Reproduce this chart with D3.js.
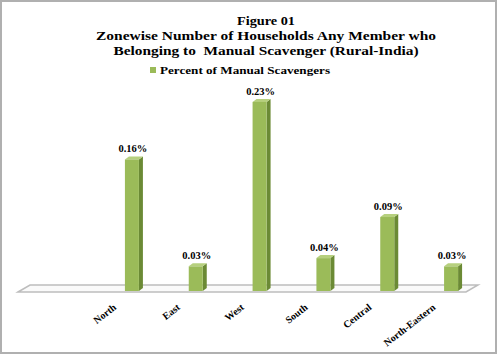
<!DOCTYPE html>
<html><head><meta charset="utf-8">
<script src="https://cdn.jsdelivr.net/npm/d3@7"></script>
<style>html,body{margin:0;padding:0;background:#fff;}svg{display:block;}</style>
</head><body>
<svg id="chart" width="498" height="356"></svg>
<script>
const categories = ["North", "East", "West", "South", "Central", "North-Eastern"];
const values = [0.16, 0.03, 0.23, 0.04, 0.09, 0.03];
const valueLabels = ["0.16%", "0.03%", "0.23%", "0.04%", "0.09%", "0.03%"];
const titleLines = ["Figure 01", "Zonewise Number of Households Any Member who", "Belonging to  Manual Scavenger (Rural-India)"];
const seriesName = "Percent of Manual Scavengers";

const svg = d3.select("#chart");
const serif = "'Liberation Serif','Times New Roman',serif";
const cFront = "#9bbb59", cSide = "#6b8a35", cTop = "#b6d07e";

// outer frame
svg.append("rect").attr("x", 1).attr("y", 1).attr("width", 495).attr("height", 352)
  .attr("fill", "#fff").attr("stroke", "#b0b0b0").attr("stroke-width", 2);

// title (reference is horizontally stretched; fit line widths)
const titleWidths = [58, 340, 305];
titleLines.forEach((t, i) => {
  svg.append("text").attr("x", 266).attr("y", 25 + i * 15).attr("text-anchor", "middle")
    .attr("font-family", serif).attr("font-weight", "bold").attr("font-size", 13.5).attr("fill", "#000")
    .attr("xml:space", "preserve")
    .attr("textLength", titleWidths[i]).attr("lengthAdjust", "spacingAndGlyphs")
    .text(t);
});

// legend
svg.append("rect").attr("x", 150).attr("y", 67).attr("width", 6).attr("height", 6).attr("fill", cFront);
svg.append("text").attr("x", 160).attr("y", 74).attr("font-family", serif).attr("font-weight", "bold")
  .attr("font-size", 11).attr("fill", "#000")
  .attr("textLength", 170).attr("lengthAdjust", "spacingAndGlyphs")
  .text(seriesName);

// scales
const x = d3.scaleBand().domain(categories).range([100, 483]);
const y = d3.scaleLinear().domain([0, 0.25]).range([291, 85.5]);
const dx = 4, dy = 3, bw = 14;

// floor
const fl = 18, fr = 466, fy = 292, bk = 12, bkY = 7;
svg.append("path")
  .attr("d", `M${fl},${fy} L${fl + bk},${fy - bkY} L${fr + bk},${fy - bkY} L${fr},${fy} Z`)
  .attr("fill", "#fafafa").attr("stroke", "#bdbdbd").attr("stroke-width", 1.5);

// bars
const g = svg.append("g");
categories.forEach((c, i) => {
  const cx = x(c) + x.bandwidth() / 2;
  const x0 = cx - bw / 2, x1 = cx + bw / 2;
  const yt = y(values[i]), yb = y(0);
  g.append("path").attr("d", `M${x1},${yt} L${x1 + dx},${yt - dy} L${x1 + dx},${yb - dy} L${x1},${yb} Z`).attr("fill", cSide);
  g.append("path").attr("d", `M${x0},${yt} L${x0 + dx},${yt - dy} L${x1 + dx},${yt - dy} L${x1},${yt} Z`).attr("fill", cTop);
  g.append("rect").attr("x", x0).attr("y", yt).attr("width", bw).attr("height", yb - yt).attr("fill", cFront);
  g.append("text").attr("x", cx + 1).attr("y", yt - 7).attr("text-anchor", "middle")
    .attr("font-family", serif).attr("font-weight", "bold").attr("font-size", 10.5).attr("fill", "#000")
    .text(valueLabels[i]);
  const lx = cx - 15, ly = 308.5;
  g.append("text").attr("transform", `translate(${lx},${ly}) rotate(-38)`).attr("text-anchor", "end")
    .attr("font-family", serif).attr("font-weight", "bold").attr("font-size", 10).attr("fill", "#000")
    .text(c);
});
</script>
</body></html>
